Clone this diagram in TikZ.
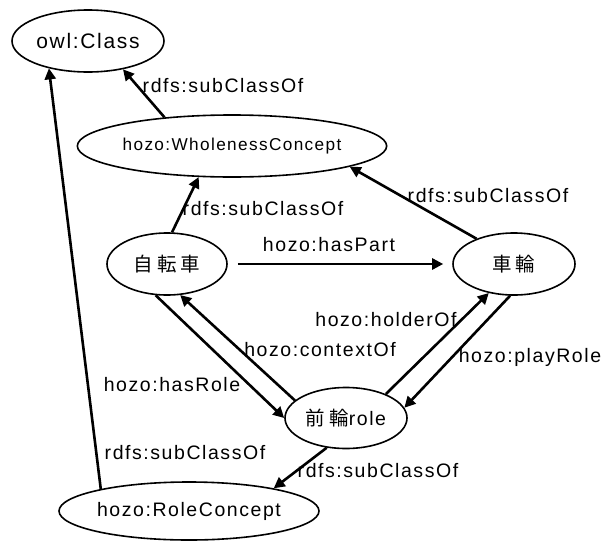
\documentclass[tikz,border=0pt]{standalone}
\usepackage{fontspec}
\setmainfont{Liberation Sans}[LetterSpace=8]
\newfontfamily\jp{Noto Sans CJK JP}[LetterSpace=20]
\usetikzlibrary{shapes.geometric,arrows.meta}
\begin{document}
\begin{tikzpicture}[x=1pt,y=-1pt,
  cls/.style={ellipse,draw,line width=1.6pt,inner sep=0pt,font=\fontsize{19.5}{21}\selectfont},
  rel/.style={line width=2.6pt,-{Triangle[length=11pt,width=11pt]}},
  lbl/.style={inner sep=0pt,font=\fontsize{19.5}{21}\selectfont}]
\useasboundingbox (0,0) rectangle (602,541);
\node[cls,minimum width=152pt,minimum height=62pt,font=\fontsize{21}{23}\selectfont] (owl) at (88,41) {owl:Class};
\node[cls,minimum width=264pt,minimum height=62pt,font=\fontsize{17.2}{19}\selectfont] (wc) at (232,146) {hozo:WholenessConcept};
\node[cls,minimum width=120pt,minimum height=62pt] (jt) at (167,264) {\jp 自転車};
\node[cls,minimum width=122pt,minimum height=62pt] (sr) at (514,264) {\jp 車輪};
\node[cls,minimum width=122pt,minimum height=61pt] (fr) at (346,418) {{\jp 前輪}role};
\node[cls,minimum width=226pt,minimum height=58pt] (rc) at (189,511) {hozo:RoleConcept};

\draw[rel] (wc.157) -- (owl.-39);
\draw[rel] (rc.166) -- (owl.215);
\draw[rel] (jt.81) -- (wc.223);
\draw[rel] (sr.146) -- (wc.-10);
\draw[rel,shorten <=10pt,shorten >=9pt] (jt.east) -- (sr.west);
\draw[rel] (jt.-110) -- (fr.180);
\draw[rel] (fr.161) -- (jt.-67);
\draw[rel] (fr.31) -- (sr.-131);
\draw[rel] (sr.-97) -- (fr.10);
\draw[rel] (fr.-123) -- (rc.15);

\node[lbl] (l1) at (223,86) {rdfs:subClassOf};
\node[lbl] (l2) at (263,209) {rdfs:subClassOf};
\node[lbl] (l3) at (488,196) {rdfs:subClassOf};
\node[lbl] (l4) at (329,245) {hozo:hasPart};
\node[lbl] (l5) at (386,320) {hozo:holderOf};
\node[lbl] (l6) at (320,350) {hozo:contextOf};
\node[lbl] (l7) at (172,385) {hozo:hasRole};
\node[lbl] (l8) at (530,357) {hozo:playRole};
\node[lbl] (l9) at (185,453) {rdfs:subClassOf};
\node[lbl] (l10) at (378,471) {rdfs:subClassOf};
\end{tikzpicture}
\end{document}
